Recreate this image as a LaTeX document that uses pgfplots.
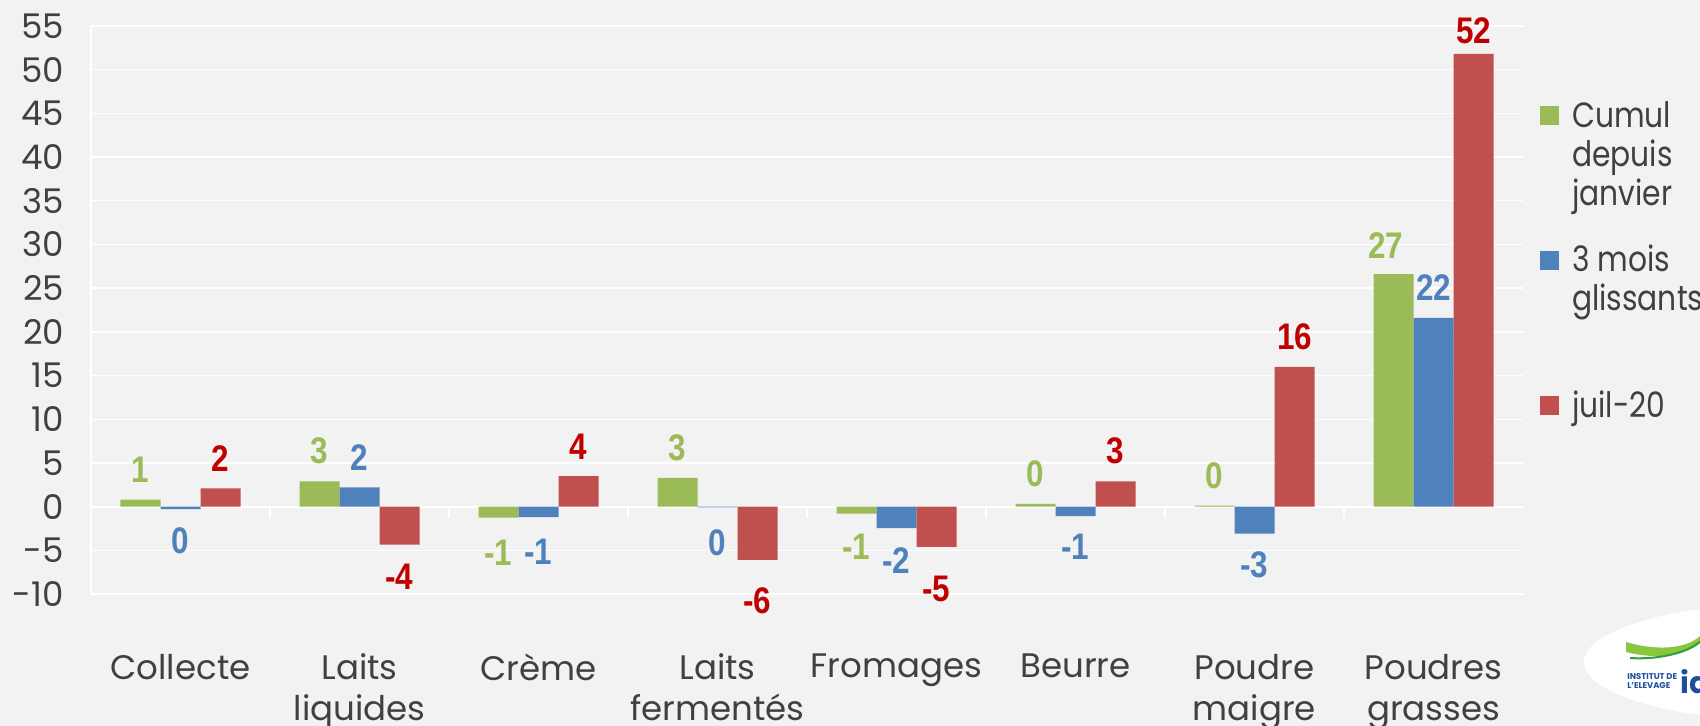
\documentclass[border=0pt]{standalone}
\usepackage{pgfplots}
\pgfplotsset{compat=1.18}
\usepackage{fontspec}
\setmainfont{Poppins}
\newfontfamily\legfont[FakeStretch=0.85]{Poppins}
\newfontfamily\lab[FakeStretch=0.85]{Liberation Sans}
\definecolor{bg}{HTML}{F2F2F2}
\definecolor{cg}{HTML}{9BBB59}
\definecolor{cb}{HTML}{4F81BD}
\definecolor{cr}{HTML}{C0504D}
\definecolor{lr}{HTML}{C00000}
\definecolor{txt}{HTML}{404040}
\definecolor{logob}{HTML}{1D4F9C}
\definecolor{logog}{HTML}{8CC63F}
\definecolor{logodg}{HTML}{2E9E3E}
\begin{document}
\begin{tikzpicture}[x=1pt,y=1pt]
\fill[bg] (0,0) rectangle (850,-363);
\begin{axis}[
  at={(45.5pt,-297pt)}, anchor=south west,
  scale only axis, width=716pt, height=284pt,
  xmin=-0.5, xmax=7.5, ymin=-10, ymax=55,
  axis y line*=left, axis x line*=bottom,
  x axis line style={draw=none},
  y axis line style={white, line width=0.8pt},
  ybar=0pt, bar width=20pt,
  ytick={-10,-5,...,55},
  ymajorgrids, grid style={white, line width=0.7pt},
  major tick length=0pt,
  tick style={draw=none},
  xtick={0,1,2,3,4,5,6,7},
  xticklabels={Collecte,{Laits\\liquides},Crème,{Laits\\fermentés},Fromages,Beurre,{Poudre\\maigre},{Poudres\\grasses}},
  xticklabel style={align=center, anchor=north, yshift=-26.5pt, text=txt, font=\fontsize{17}{20.5}\selectfont},
  yticklabel style={anchor=east, xshift=-10pt, text=txt, font=\fontsize{17}{17}\selectfont},
  /pgf/number format/assume math mode=true,
  legend style={at={(1.0119,0.8778)}, anchor=north west, draw=none, fill=none,
    inner sep=0pt, outer sep=0pt, row sep=0pt, text=txt,
    font=\legfont\fontsize{17.5}{20}\selectfont,
    cells={anchor=base west, inner sep=0pt, text height=14pt, text depth=6pt},
    /tikz/every odd column/.append style={column sep=4.5pt}},
  legend image code/.code={\fill[#1] (0pt,1pt) rectangle (9.5pt,10.5pt);},
  nodes near coords, point meta=explicit symbolic,
  visualization depends on={value \thisrow{a} \as \anc},
  visualization depends on={value \thisrow{dy} \as \dy},
  visualization depends on={value \thisrow{dx} \as \dx},
]
\draw[white, line width=1pt] (axis cs:-0.5,0) -- (axis cs:7.5,0);
\pgfplotsinvokeforeach{0.5,1.5,2.5,3.5,4.5,5.5,6.5}{
  \draw[white, line width=0.8pt] (axis cs:#1,0) -- ++(0pt,-5.5pt);
}
\addplot[fill=cg, draw=none, bar shift=-20pt,
  every node near coord/.append style={text=cg, font=\lab\bfseries\fontsize{18.5}{18.5}\selectfont, inner ysep=8.25pt, inner xsep=0pt, anchor=\anc, yshift=\dy pt, xshift=\dx pt}] table[meta=l] {
x y l a dy dx
0 0.8 1 south 0 0
1 2.9 3 south 0 0
2 -1.25 -1 north -2.75 0
3 3.3 3 south 0 0
4 -0.8 -1 north -1.75 0
5 0.3 0 south 0 0
6 0.1 0 south 0 0
7 26.6 27 south -0.75 -4
};
\addlegendentry{Cumul}
\addlegendimage{empty legend}
\addlegendentry{depuis}
\addlegendimage{empty legend}
\addlegendentry{janvier}
\addplot[fill=cb, draw=none, bar shift=0pt,
  every node near coord/.append style={text=cb, font=\lab\bfseries\fontsize{18.5}{18.5}\selectfont, inner ysep=8.25pt, inner xsep=0pt, anchor=\anc, yshift=\dy pt, xshift=\dx pt}] table[meta=l] {
x y l a dy dx
0 -0.3 0 north -0.6 0
1 2.2 2 south 0 0
2 -1.2 -1 north -2.75 0
3 -0.1 0 north -2.75 0
4 -2.45 -2 north -1.25 0
5 -1.1 -1 north -0.55 0
6 -3.1 -3 north -0.75 0
7 21.6 22 south 0 0
};
\addlegendentry[text height=27.6pt]{3 mois}
\addlegendimage{empty legend}
\addlegendentry{glissants}
\addplot[fill=cr, draw=none, bar shift=20pt,
  every node near coord/.append style={text=lr, font=\lab\bfseries\fontsize{18.5}{18.5}\selectfont, inner ysep=8.25pt, inner xsep=0pt, anchor=\anc, yshift=\dy pt, xshift=\dx pt}] table[meta=l] {
x y l a dy dx
0 2.1 2 south 0 0
1 -4.35 -4 north -1.25 0
2 3.5 4 south 0 0
3 -6.1 -6 north -5.25 0
4 -4.6 -5 north -6.25 0
5 2.9 3 south 0 0
6 16.0 16 south 0 0
7 51.8 52 south -3.6 0
};
\addlegendentry[text height=47.9pt]{juil-20}
\end{axis}
% logo
\fill[white] (900,-331) ellipse (108 and 30);
\fill[logog] (813,-321) .. controls (830,-326) and (845,-324) .. (851,-317) -- (851,-320) .. controls (845,-328) and (828,-330) .. (813,-326) -- cycle;
\draw[logodg, line width=1pt] (815,-329) .. controls (830,-330) and (845,-326) .. (851,-320);
\node[anchor=west, inner sep=0pt, text=logob, font=\bfseries\fontsize{4.2}{4.6}\selectfont, align=left] at (813.5,-340.5) {INSTITUT DE\\L'ELEVAGE};
\node[anchor=west, inner sep=0pt, text=logob, font=\bfseries\fontsize{15}{15}\selectfont] at (840,-341) {id};
\pgfresetboundingbox
\useasboundingbox (0,0) rectangle (850,-363);
\end{tikzpicture}
\end{document}
